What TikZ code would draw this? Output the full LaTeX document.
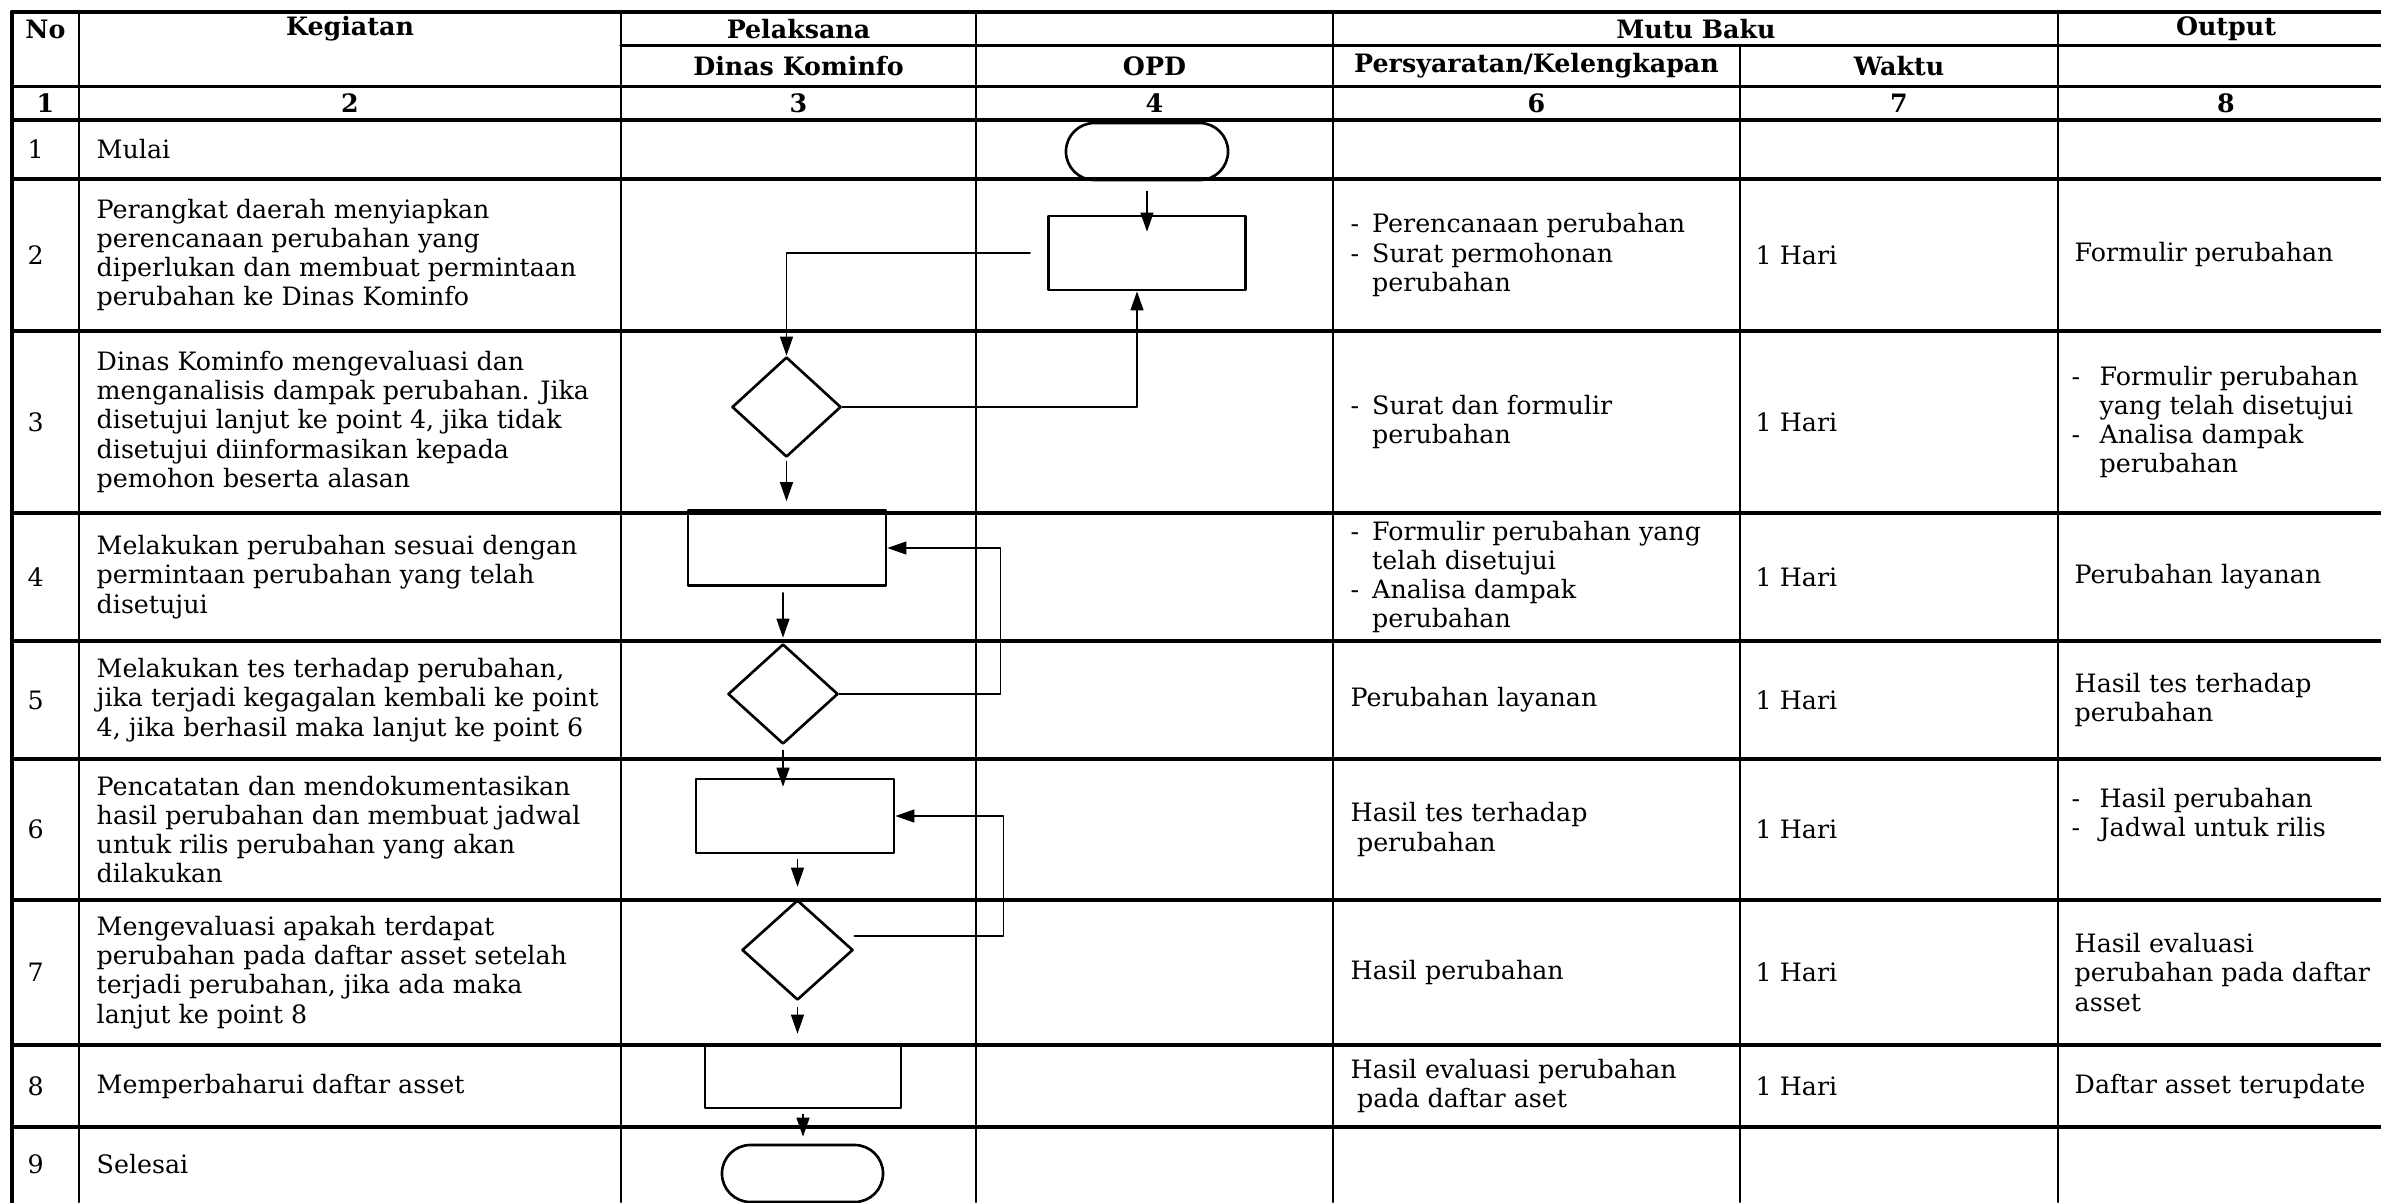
\documentclass[tikz,border=0pt]{standalone}
\usepackage{fontspec}
\setmainfont{DejaVu Serif}
\usetikzlibrary{shapes.geometric, shapes.misc, arrows.meta}
\newcommand{\cellfont}{\fontsize{7.2}{8.3}\selectfont}
\newcommand{\pdash}{\makebox[0.85em][l]{-}}
\newcommand{\pind}{\hspace*{0.85em}}
\newcommand{\odash}{\makebox[1.1em][l]{-}}
\newcommand{\oind}{\hspace*{1.1em}}
\begin{document}
\begin{tikzpicture}[x=0.01cm, y=-0.01cm, font=\cellfont, line join=round, line cap=round,
	>={Triangle[length=0.19cm, width=0.13cm]},
	hline/.style={line width=0.9pt},
	vline/.style={line width=0.6pt},
	head/.style={font=\cellfont\bfseries, inner sep=0pt},
	cell/.style={anchor=west, align=left, inner sep=0pt},
	proc/.style={draw, rectangle, line width=0.75pt, inner sep=0pt},
	decide/.style={draw, diamond, line width=0.75pt, inner sep=0pt},
	term/.style={draw, rounded rectangle, line width=0.75pt, inner sep=0pt},
	flow/.style={->, line width=0.35pt}]
	\useasboundingbox (0,0) rectangle (2381,1202);
	\draw[line width=1.1pt] (12,12) -- (12,1202);
	\foreach \x in {79,621,976,1333,2058} \draw[vline] (\x,12) -- (\x,1202);
	\draw[vline] (1740,45.5) -- (1740,1202);
	\draw[line width=1.1pt] (12,12) -- (2381,12);
	\foreach \y in {86.5,120,179,331,513,641,759,900,1045,1127} \draw[hline] (12,\y) -- (2381,\y);
	\draw[hline] (621,45.5) -- (2381,45.5);
	\node[head] (hno) at (45.5,29) {No};
	\node[head] (hkegiatan) at (350,29) {Kegiatan};
	\node[head] (hpelaksana) at (798.5,29) {Pelaksana};
	\node[head] (hmutu) at (1696,29) {Mutu Baku};
	\node[head] (houtput) at (2226,29) {Output};
	\node[head] (hdinas) at (798.5,66) {Dinas Kominfo};
	\node[head] (hopd) at (1154.5,66) {OPD};
	\node[head] (hsyarat) at (1536.5,66) {Persyaratan/Kelengkapan};
	\node[head] (hwaktu) at (1899,66) {Waktu};
	\foreach \t/\x in {1/45.5, 2/350, 3/798.5, 4/1154.5, 6/1536.5, 7/1899, 8/2226}
		\node[head] (kol\t) at (\x,103) {\t};
	\foreach \n/\y in {1/149.5, 2/255, 3/422, 4/577, 5/700, 6/829.5, 7/972.5, 8/1086, 9/1164.5}
		\node[cell] (no\n) at (27,\y) {\n};
	\node[cell] (keg1) at (96,149.5) {Mulai};
	\node[cell] (keg2) at (96,255) {Perangkat daerah menyiapkan\\perencanaan perubahan yang\\diperlukan dan membuat permintaan\\perubahan ke Dinas Kominfo};
	\node[cell] (keg3) at (96,422) {Dinas Kominfo mengevaluasi dan\\menganalisis dampak perubahan. Jika\\disetujui lanjut ke point 4, jika tidak\\disetujui diinformasikan kepada\\pemohon beserta alasan};
	\node[cell] (keg4) at (96,577) {Melakukan perubahan sesuai dengan\\permintaan perubahan yang telah\\disetujui};
	\node[cell] (keg5) at (96,700) {Melakukan tes terhadap perubahan,\\jika terjadi kegagalan kembali ke point\\4, jika berhasil maka lanjut ke point 6};
	\node[cell] (keg6) at (96,829.5) {Pencatatan dan mendokumentasikan\\hasil perubahan dan membuat jadwal\\untuk rilis perubahan yang akan\\dilakukan};
	\node[cell] (keg7) at (96,972.5) {Mengevaluasi apakah terdapat\\perubahan pada daftar asset setelah\\terjadi perubahan, jika ada maka\\lanjut ke point 8};
	\node[cell] (keg8) at (96,1086) {Memperbaharui daftar asset};
	\node[cell] (keg9) at (96,1164.5) {Selesai};
	\node[cell] (syarat2) at (1350,255) {\pdash Perencanaan perubahan\\\pdash Surat permohonan\\\pind perubahan};
	\node[cell] (syarat3) at (1350,422) {\pdash Surat dan formulir\\\pind perubahan};
	\node[cell] (syarat4) at (1350,577) {\pdash Formulir perubahan yang\\\pind telah disetujui\\\pdash Analisa dampak\\\pind perubahan};
	\node[cell] (syarat5) at (1350,700) {Perubahan layanan};
	\node[cell] (syarat6) at (1350,829.5) {Hasil tes terhadap\\\hspace*{0.25em}perubahan};
	\node[cell] (syarat7) at (1350,972.5) {Hasil perubahan};
	\node[cell] (syarat8) at (1350,1086) {Hasil evaluasi perubahan\\\hspace*{0.25em}pada daftar aset};
	\foreach \n/\y in {2/255, 3/422, 4/577, 5/700, 6/829.5, 7/972.5, 8/1086}
		\node[cell] (waktu\n) at (1755,\y) {1 Hari};
	\node[cell] (out2) at (2074,255) {Formulir perubahan};
	\node[cell] (out3) at (2071,422) {\odash Formulir perubahan\\\oind yang telah disetujui\\\odash Analisa dampak\\\oind perubahan};
	\node[cell] (out4) at (2074,577) {Perubahan layanan};
	\node[cell] (out5) at (2074,700) {Hasil tes terhadap\\perubahan};
	\node[cell] (out6) at (2071,815) {\odash Hasil perubahan\\\odash Jadwal untuk rilis};
	\node[cell] (out7) at (2074,972.5) {Hasil evaluasi\\perubahan pada daftar\\asset};
	\node[cell] (out8) at (2074,1086) {Daftar asset terupdate};
	\node[term, minimum width=1.62cm, minimum height=0.57cm] (mulai) at (1147,151.5) {};
	\node[proc, minimum width=1.97cm, minimum height=0.74cm] (siapkan) at (1147,253) {};
	\node[decide, minimum width=1.09cm, minimum height=1cm] (evaluasi) at (786.5,407) {};
	\node[proc, minimum width=1.98cm, minimum height=0.75cm] (ubah) at (787,548) {};
	\node[decide, minimum width=1.1cm, minimum height=1cm] (tes) at (783,694) {};
	\node[proc, minimum width=1.98cm, minimum height=0.74cm] (catat) at (795,816) {};
	\node[decide, minimum width=1.11cm, minimum height=1cm] (cekaset) at (797.5,950) {};
	\node[proc, minimum width=1.96cm, minimum height=0.63cm] (perbarui) at (803,1076.5) {};
	\node[term, minimum width=1.61cm, minimum height=0.57cm] (selesai) at (802.5,1173.5) {};
	\draw[flow, shorten <=0.1cm] (mulai.south) -- ([yshift=-0.17cm]siapkan.north);
	\draw[flow] ([xshift=-0.17cm]siapkan.west) -| (evaluasi.north);
	\draw[flow] (evaluasi.east) -| ([xshift=-0.1cm]siapkan.south);
	\draw[flow, shorten <=0.03cm, shorten >=0.08cm] (evaluasi.south) -- (evaluasi.south |- ubah.north);
	\draw[flow, shorten <=0.06cm, shorten >=0.05cm] (tes.north |- ubah.south) -- (tes.north);
	\draw[flow] (tes.east) -- ++(161,0) |- (ubah.east);
	\draw[flow, shorten <=0.05cm] (tes.south) -- ([yshift=-0.09cm]tes.south |- catat.north);
	\draw[flow] ([yshift=0.14cm]cekaset.east) -- ++(149,0) |- (catat.east);
	\draw[flow, shorten <=0.05cm, shorten >=0.12cm] (cekaset.north |- catat.south) -- (cekaset.north);
	\draw[flow, shorten <=0.06cm, shorten >=0.1cm] (cekaset.south) -- (cekaset.south |- perbarui.north);
	\draw[flow, shorten <=0.05cm, shorten >=0.07cm] (perbarui.south) -- (perbarui.south |- selesai.north);
\end{tikzpicture}
\end{document}
